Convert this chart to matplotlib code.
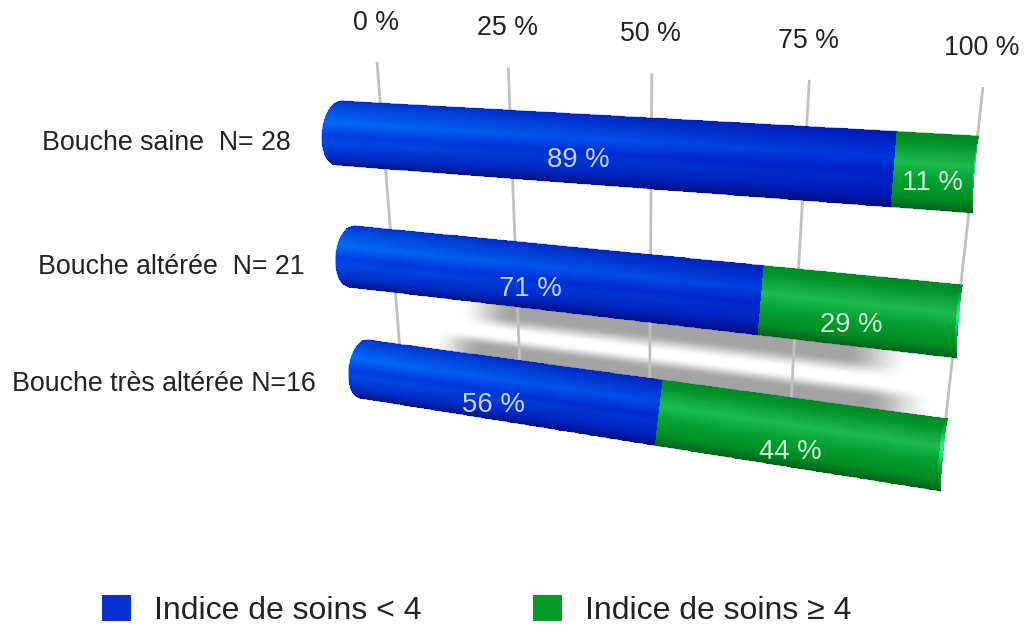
import numpy as np
import matplotlib
matplotlib.use("Agg")
import matplotlib.pyplot as plt
from matplotlib.patches import Patch
from matplotlib.transforms import Transform

# ---- data ----
categories = ["Bouche saine  N= 28", "Bouche altérée  N= 21", "Bouche très altérée N=16"]
low_care = [89, 71, 56]
high_care = [11, 29, 44]
ticks = [0, 25, 50, 75, 100]
tick_labels = ["0 %", "25 %", "50 %", "75 %", "100 %"]
series_names = ["Indice de soins < 4", "Indice de soins ≥ 4"]

# ---- style / layout ----
W, H = 1027, 627
plt.rcParams["font.family"] = ["Liberation Sans", "DejaVu Sans"]
TXT = "#222222"
bar_corners = [((342, 101), (979, 136), (336, 165), (973, 213)),
               ((355, 226), (963, 285), (349, 287), (957, 358)),
               ((368, 340), (948, 419), (360, 398), (941, 491))]
cat_xy = [(291, 143), (304, 267), (316, 384)]
low_xy = [(578, 160), (530, 289), (493, 405)]
high_xy = [(932, 183), (851, 325), (790, 452)]
CAP = 3.2


class Homography(Transform):
    input_dims = output_dims = 2
    is_separable = False
    has_inverse = False

    def __init__(self, tl, tr, bl, br):
        super().__init__()
        src = [(0, 0), (100, 0), (0, 1), (100, 1)]
        dst = [tl, tr, bl, br]
        A, b = [], []
        for (u, v), (x, y) in zip(src, dst):
            A.append([u, v, 1, 0, 0, 0, -u * x, -v * x])
            A.append([0, 0, 0, u, v, 1, -u * y, -v * y])
            b += [x, y]
        self.M = np.append(np.linalg.solve(np.array(A, float), np.array(b, float)), 1).reshape(3, 3)

    def transform_non_affine(self, values):
        values = np.asarray(np.ma.getdata(values), float)
        p = np.column_stack([values, np.ones(len(values))]) @ self.M.T
        return p[:, :2] / p[:, 2:]


grid_h = Homography((377, 62), (983, 87), (400, 350), (945, 425))
bar_hs = [Homography(*c) for c in bar_corners]

fig = plt.figure(figsize=(W / 100, H / 100), dpi=100)
ax = fig.add_axes([0, 0, 1, 1])

blue_t = [0, .10, .35, .55, .65, .85, 1]
blue_l = np.array([(0, 50, 200), (0, 72, 222), (0, 108, 246), (0, 62, 226), (0, 72, 226), (0, 50, 205), (0, 24, 145)]) / 255
blue_r = np.array([(0, 18, 170), (0, 28, 190), (0, 45, 215), (0, 25, 195), (0, 30, 195), (0, 22, 175), (0, 10, 135)]) / 255
green_t = [0, .10, .40, .60, .85, 1]
green_l = np.array([(0, 140, 40), (0, 150, 45), (25, 195, 80), (5, 165, 55), (0, 145, 40), (0, 105, 30)]) / 255
green_r = np.array([(0, 135, 35), (0, 145, 40), (30, 185, 80), (5, 160, 50), (0, 140, 35), (0, 100, 28)]) / 255


def ramp(stops, cols, t):
    return np.column_stack([np.interp(t, stops, cols[:, k]) for k in range(3)])


def draw_segment(hom, v0, v1, stops, left, right, cap=False, rim=False):
    tr = hom + ax.transData
    t_edges = np.linspace(0, 1, 61)
    u_edges = np.linspace(0, 1, 81)
    t_mid = (t_edges[:-1] + t_edges[1:]) / 2
    u_mid = (u_edges[:-1] + u_edges[1:]) / 2
    U, T = np.meshgrid(u_edges, t_edges)
    arc = np.sqrt(np.clip(1 - (2 * T - 1) ** 2, 0, 1))
    X = v0 + (v1 - v0) * U
    if cap:
        X = X - CAP * arc * (1 - U)
    if rim:
        X = X - 0.2 * arc * U
    ca, cb = ramp(stops, left, t_mid), ramp(stops, right, t_mid)
    mix0, mix1 = v0 / 100, v1 / 100
    C = np.zeros((60, 80, 3))
    for j, u in enumerate(u_mid):
        m = mix0 + (mix1 - mix0) * u
        C[:, j] = ca * (1 - m) + cb * m
    if rim:
        glow = np.exp(-((t_mid - 0.42) / 0.2) ** 2)[:, None, None]
        edge = np.zeros((1, 80, 1))
        edge[0, -1, 0] = 1
        C = C * (1 - glow * edge) + np.array([.1, .95, .45]) * glow * edge
    ax.pcolormesh(X, T, C, shading="flat", transform=tr, zorder=4, antialiased=False)
    # soft outline to smooth the mesh border
    ax.plot(X[0, :], T[0, :], color=C[0, 40], lw=.9, alpha=.45, transform=tr, zorder=5)
    ax.plot(X[-1, :], T[-1, :], color=C[-1, 40], lw=.9, alpha=.45, transform=tr, zorder=5)
    if cap:
        ax.plot(X[:, 0], T[:, 0], color=C[30, 0], lw=.9, alpha=.45, transform=tr, zorder=3)


def draw_shadow(hom, v0, v1, s_near, s_far):
    ve = np.linspace(v0, v1, 181)
    se = np.linspace(min(s_near, s_far), max(s_near, s_far), 81)
    vm, sm = (ve[:-1] + ve[1:]) / 2, (se[:-1] + se[1:]) / 2
    fv = np.clip((vm - v0) / 10, 0, 1) * np.clip((v1 - vm) / 10, 0, 1)
    fv = fv * fv * (3 - 2 * fv)
    rel = np.abs(sm - s_near) / abs(s_far - s_near)
    fs = np.clip((1 - rel) / .6, 0, 1)
    fs = fs * fs * (3 - 2 * fs)
    a = np.outer(fs, fv) * .36
    rgb = np.repeat((1 - a)[:, :, None], 3, axis=2)
    ax.pcolormesh(ve, se, rgb, shading="flat", transform=hom + ax.transData, zorder=1, antialiased=False)


draw_shadow(bar_hs[1], 21, 94, 1.0, 1.42)
draw_shadow(bar_hs[2], 13, 98, 0.0, -0.36)

for v in ticks:
    ax.plot([v, v], [0, 1], color="#c0c0c0", lw=2.0, solid_capstyle="butt",
            transform=grid_h + ax.transData, zorder=2)

for hom, lo, hi in zip(bar_hs, low_care, high_care):
    draw_segment(hom, 0, lo, blue_t, blue_l, blue_r, cap=True)
    draw_segment(hom, lo, lo + hi, green_t, green_l, green_r, rim=True)

ax.set_xlim(0, W)
ax.set_ylim(H, 0)
ax.axis("off")

tops = grid_h.transform(np.column_stack([ticks, np.zeros(len(ticks))]))
for (x, y), lab in zip(tops, tick_labels):
    ax.text(x - 1, y - 39, lab, fontsize=19.3, color=TXT, ha="center", va="center", zorder=6)

for (x, y), lab in zip(cat_xy, categories):
    ax.text(x, y, lab, fontsize=19.3, color=TXT, ha="right", va="center", zorder=6)

for (x, y), v in zip(low_xy, low_care):
    ax.text(x, y, f"{v} %", fontsize=19.8, color="#c9d3ee", ha="center", va="center", zorder=6)
for (x, y), v in zip(high_xy, high_care):
    ax.text(x, y, f"{v} %", fontsize=19.8, color="#cdeed6", ha="center", va="center", zorder=6)

handles = [Patch(facecolor="#0a2fcf", edgecolor="none", label=series_names[0]),
           Patch(facecolor="#089a2a", edgecolor="none", label=series_names[1])]
ax.legend(handles=handles, loc="lower left", bbox_to_anchor=(102 / W, 1 / H), bbox_transform=fig.transFigure,
          ncol=2, frameon=False, fontsize=23, borderpad=0, borderaxespad=0,
          handlelength=.91, handleheight=.87, handletextpad=.72, columnspacing=3.47, labelcolor=TXT)

fig.savefig("out.png", dpi=100)
